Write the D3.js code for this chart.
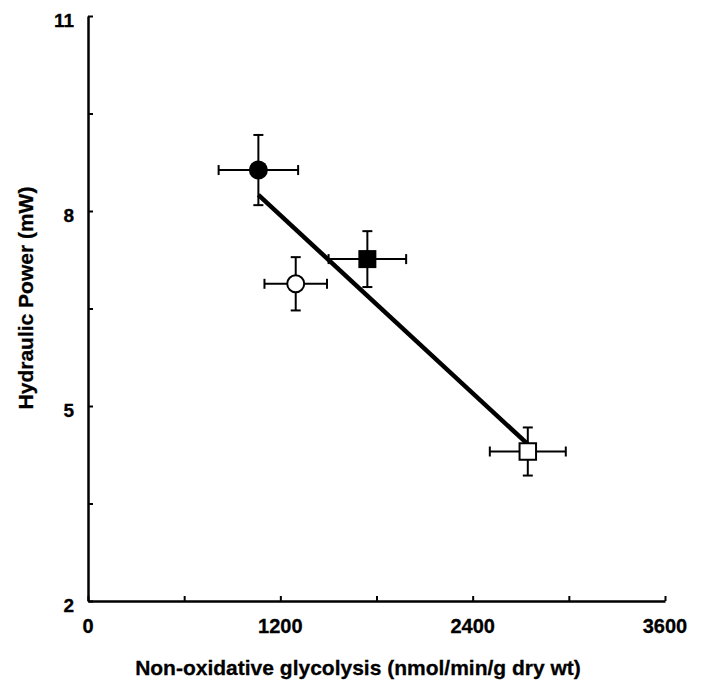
<!DOCTYPE HTML>
<html>

<head>
  <meta charset="utf-8">
  <title>Hydraulic power vs glycolysis</title>
  <script src="https://d3js.org/d3.v7.min.js"></script>
  <style>
    body { margin: 0; background: #fff; }
    text { font-family: "Liberation Sans", Arial, sans-serif; font-weight: bold; fill: #000; stroke: #000; stroke-width: 0.3px; }
  </style>
</head>

<body>
  <script>
    // groups
    const groups = ['filledCircle', 'filledSquare', 'openCircle', 'openSquare'];
    const glycolysis = [1063, 1743, 1296, 2744];     // x mean
    const glycolysisErr = [248, 242, 195, 237];      // x error
    const power = [8.63, 7.26, 6.88, 4.30];          // y mean
    const powerErr = [0.54, 0.43, 0.41, 0.37];       // y error

    const xTicks = [0, 600, 1200, 1800, 2400, 3000, 3600];
    const xLabels = [0, 1200, 2400, 3600];
    const yTicks = [2, 3.5, 5, 6.5, 8, 9.5, 11];
    const yLabels = [2, 5, 8, 11];

    const W = 703, H = 684;

    const svg = d3.select('body').append('svg')
      .attr('width', W)
      .attr('height', H);

    const x = d3.scaleLinear().domain([0, 3600]).range([88, 665]);
    const y = d3.scaleLinear().domain([2, 11]).range([601, 16]);

    // axes, ticks pointing inwards
    const xAxis = svg.append('g')
      .attr('transform', `translate(0,${y(2)})`)
      .call(d3.axisBottom(x).tickValues(xTicks).tickSize(-5).tickSizeOuter(0).tickFormat(''));
    const yAxis = svg.append('g')
      .attr('transform', `translate(${x(0)},0)`)
      .call(d3.axisLeft(y).tickValues(yTicks).tickSize(-5).tickSizeOuter(0).tickFormat(''));

    [xAxis, yAxis].forEach(a => {
      a.select('.domain').attr('stroke', '#000').attr('stroke-width', 2.5);
      a.selectAll('.tick line').attr('stroke', '#000').attr('stroke-width', 2);
    });

    svg.selectAll('.xlab')
      .data(xLabels)
      .enter()
      .append('text')
      .attr('x', d => x(d))
      .attr('y', 633)
      .attr('text-anchor', 'middle')
      .style('font-size', '20px')
      .text(d => d);

    svg.selectAll('.ylab')
      .data(yLabels)
      .enter()
      .append('text')
      .attr('x', 74)
      .attr('y', d => y(d) + 10.5)
      .attr('text-anchor', 'end')
      .style('font-size', '19px')
      .text(d => d);

    svg.append('text')
      .attr('x', 358)
      .attr('y', 675)
      .attr('text-anchor', 'middle')
      .style('font-size', '21px')
      .text('Non-oxidative glycolysis (nmol/min/g dry wt)');

    svg.append('text')
      .attr('transform', 'translate(33,298) rotate(-90)')
      .attr('text-anchor', 'middle')
      .style('font-size', '21px')
      .text('Hydraulic Power (mW)');

    // linear regression through the group means
    const mx = d3.mean(glycolysis), my = d3.mean(power);
    const sxy = d3.sum(glycolysis, (v, i) => (v - mx) * (power[i] - my));
    const sxx = d3.sum(glycolysis, v => (v - mx) * (v - mx));
    const slope = sxy / sxx;
    const icpt = my - slope * mx;
    const [x0, x1] = d3.extent(glycolysis);

    const data = groups.map((g, i) => ({
      g, x: glycolysis[i], xe: glycolysisErr[i], y: power[i], ye: powerErr[i]
    }));

    const cap = 5;
    const bars = svg.append('g').attr('stroke', '#000').attr('stroke-width', 2);
    data.forEach(d => {
      const cx = x(d.x), cy = y(d.y);
      const xl = x(d.x - d.xe), xr = x(d.x + d.xe);
      const yt = y(d.y + d.ye), yb = y(d.y - d.ye);
      bars.append('line').attr('x1', xl).attr('x2', xr).attr('y1', cy).attr('y2', cy);
      bars.append('line').attr('x1', cx).attr('x2', cx).attr('y1', yt).attr('y2', yb);
      bars.append('line').attr('x1', xl).attr('x2', xl).attr('y1', cy - cap).attr('y2', cy + cap);
      bars.append('line').attr('x1', xr).attr('x2', xr).attr('y1', cy - cap).attr('y2', cy + cap);
      bars.append('line').attr('x1', cx - cap).attr('x2', cx + cap).attr('y1', yt).attr('y2', yt);
      bars.append('line').attr('x1', cx - cap).attr('x2', cx + cap).attr('y1', yb).attr('y2', yb);
    });

    svg.append('line')
      .attr('x1', x(x0)).attr('y1', y(icpt + slope * x0))
      .attr('x2', x(x1)).attr('y2', y(icpt + slope * x1))
      .attr('stroke', '#000')
      .attr('stroke-width', 4.5);

    // markers
    const marks = svg.append('g');
    data.forEach(d => {
      const cx = x(d.x), cy = y(d.y);
      const filled = d.g.startsWith('filled');
      if (d.g.endsWith('Circle')) {
        marks.append('circle')
          .attr('cx', cx).attr('cy', cy)
          .attr('r', filled ? 9.5 : 8.5)
          .attr('fill', filled ? '#000' : '#fff')
          .attr('stroke', '#000')
          .attr('stroke-width', filled ? 0 : 2);
      } else {
        const s = filled ? 18 : 16.5;
        marks.append('rect')
          .attr('x', cx - s / 2).attr('y', cy - s / 2)
          .attr('width', s).attr('height', s)
          .attr('fill', filled ? '#000' : '#fff')
          .attr('stroke', '#000')
          .attr('stroke-width', filled ? 0 : 2);
      }
    });
  </script>
</body>

</html>
